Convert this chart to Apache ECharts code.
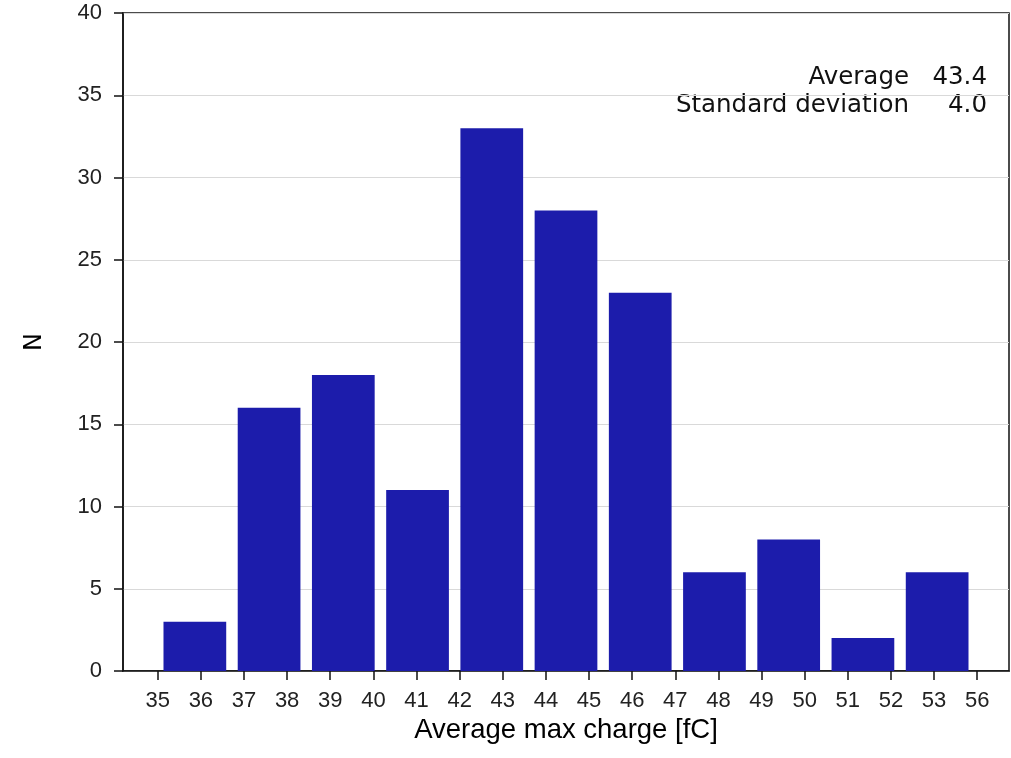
<!DOCTYPE html>
<html>
<head>
<meta charset="utf-8">
<script src="https://cdn.jsdelivr.net/npm/echarts@6/dist/echarts.min.js"></script>
<style>
  html, body { margin: 0; padding: 0; background: #fff; }
  #chart { width: 1011px; height: 758px; }
</style>
</head>
<body>
<div id="chart"></div>
<script>
// Histogram of the average max charge per channel
const binCenters = [0, 1, 2, 3, 4, 5, 6, 7, 8, 9, 10];
const counts = [3, 16, 18, 11, 33, 28, 23, 6, 8, 2, 6];
const tickLabels = ['35', '36', '37', '38', '39', '40', '41', '42', '43', '44',
                    '45', '46', '47', '48', '49', '50', '51', '52', '53', '56'];
const statNames = ['Average', 'Standard deviation'];
const statValues = ['43.4', '4.0'];

// Tick marks are evenly spaced across the bins, starting at the first bin edge
const firstTick = -0.5;
const tickStep = 0.581;
const tickPos = tickLabels.map((_, k) => firstTick + k * tickStep);

function labelFor(v) {
  let best = 0;
  for (let k = 1; k < tickPos.length; k++) {
    if (Math.abs(tickPos[k] - v) < Math.abs(tickPos[best] - v)) best = k;
  }
  return tickLabels[best];
}

const barWidth = 0.845;
const barColor = '#1c1cab';
const tickFont = '"Liberation Sans", Arial, sans-serif';
const statFont = '"DejaVu Sans", sans-serif';

const chart = echarts.init(document.getElementById('chart'), null, { renderer: 'canvas' });

chart.setOption({
  animation: false,
  backgroundColor: '#ffffff',
  grid: {
    left: 123, right: 2, top: 13, bottom: 87,
    show: true, borderColor: '#111', borderWidth: 1.5, backgroundColor: 'transparent'
  },
  xAxis: {
    type: 'value',
    min: -0.968,
    max: 10.968,
    name: 'Average max charge [fC]',
    nameLocation: 'middle',
    nameGap: 44,
    nameTextStyle: { fontFamily: tickFont, fontSize: 27.5, color: '#000' },
    axisLine: { show: true, onZero: false, lineStyle: { color: '#111', width: 1.5 } },
    axisTick: {
      show: true, inside: false, length: 9,
      customValues: tickPos,
      lineStyle: { color: '#111', width: 1.5 }
    },
    axisLabel: {
      show: true,
      customValues: tickPos,
      margin: 19,
      fontFamily: tickFont, fontSize: 22, color: '#222',
      formatter: (v) => labelFor(v)
    },
    splitLine: { show: false }
  },
  yAxis: {
    type: 'value',
    min: 0, max: 40, interval: 5,
    name: 'N',
    nameLocation: 'middle',
    nameGap: 76,
    nameRotate: 90,
    nameTextStyle: { fontFamily: statFont, fontSize: 24, color: '#000' },
    axisLine: { show: true, onZero: false, lineStyle: { color: '#111', width: 1.5 } },
    axisTick: { show: true, inside: false, length: 9, lineStyle: { color: '#111', width: 1.5 } },
    axisLabel: { margin: 21, fontFamily: tickFont, fontSize: 22, color: '#222' },
    splitLine: { show: true, lineStyle: { color: '#d9d9d9', width: 1 } }
  },
  graphic: [
    { type: 'text', right: 1011 - 909, top: 64,
      style: { text: statNames.join('\n'), font: '24.5px ' + statFont, fill: '#111', textAlign: 'right', lineHeight: 28 } },
    { type: 'text', right: 1011 - 987, top: 64,
      style: { text: statValues.join('\n'), font: '24.5px ' + statFont, fill: '#111', textAlign: 'right', lineHeight: 28 } }
  ],
  series: [{
    type: 'custom',
    data: binCenters.map((c, i) => [c, counts[i]]),
    encode: { x: 0, y: 1 },
    renderItem: (params, api) => {
      const c = api.value(0);
      const n = api.value(1);
      const p0 = api.coord([c - barWidth / 2, n]);
      const p1 = api.coord([c + barWidth / 2, 0]);
      return {
        type: 'rect',
        shape: { x: p0[0], y: p0[1], width: p1[0] - p0[0], height: p1[1] - p0[1] },
        style: { fill: barColor }
      };
    },
    z: 2
  }]
});
</script>
</body>
</html>
